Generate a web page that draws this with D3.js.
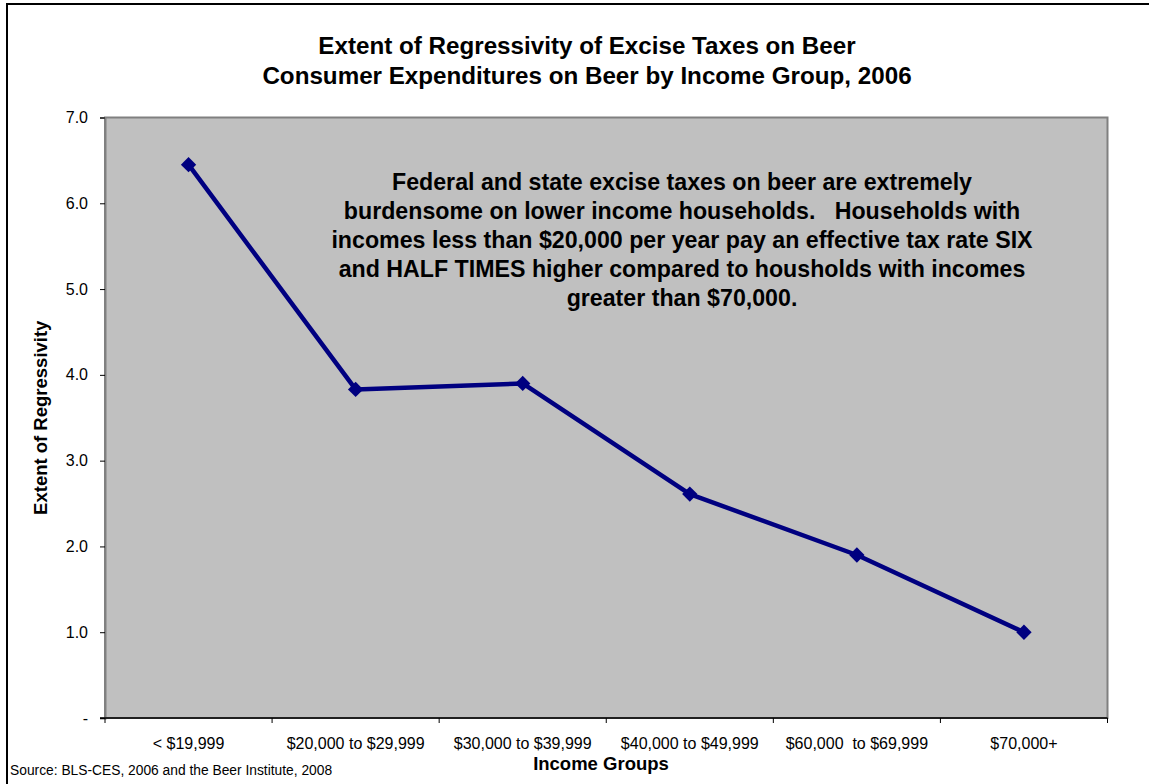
<!DOCTYPE html>
<html lang="en">
<head>
    <meta charset="UTF-8">
    <title>Extent of Regressivity of Excise Taxes on Beer</title>
    <style>
        body { margin: 0; background: #fff; }
        svg { display: block; font-family: "Liberation Sans", Arial, sans-serif; }
    </style>
</head>
<body>
<script src="https://cdn.jsdelivr.net/npm/d3@7"></script>
<script>
    // data
    const categories = ["< $19,999", "$20,000 to $29,999", "$30,000 to $39,999",
        "$40,000 to $49,999", "$60,000  to $69,999", "$70,000+"];
    const values = [6.45, 3.83, 3.90, 2.61, 1.90, 1.00];
    const yTicks = [0, 1, 2, 3, 4, 5, 6, 7];
    const titleLines = ["Extent of Regressivity of Excise Taxes on Beer",
        "Consumer Expenditures on Beer by Income Group, 2006"];
    const noteLines = ["Federal and state excise taxes on beer are extremely",
        "burdensome on lower income households.   Households with",
        "incomes less than $20,000 per year pay an effective tax rate SIX",
        "and HALF TIMES higher compared to housholds with incomes",
        "greater than $70,000."];

    const width = 1149, height = 784;
    const plot = {left: 105, top: 117.5, right: 1107.5, bottom: 718};

    const svg = d3.select("body").append("svg")
        .attr("width", width)
        .attr("height", height);

    // outer chart frame (runs off the right/bottom edges)
    svg.append("rect")
        .attr("x", 7).attr("y", 4)
        .attr("width", 1200).attr("height", 900)
        .attr("fill", "none")
        .attr("stroke", "#000").attr("stroke-width", 2);

    const x = d3.scaleBand()
        .domain(categories)
        .range([plot.left, plot.right]);

    const y = d3.scaleLinear()
        .domain([0, 7])
        .range([plot.bottom, plot.top]);

    // plot area
    svg.append("rect")
        .attr("x", plot.left).attr("y", plot.top)
        .attr("width", plot.right - plot.left)
        .attr("height", plot.bottom - plot.top)
        .attr("fill", "#c0c0c0")
        .attr("stroke", "#808080").attr("stroke-width", 2);

    // y axis
    const yAxis = svg.append("g")
        .attr("transform", `translate(${plot.left},0)`)
        .call(d3.axisLeft(y).tickValues(yTicks).tickSize(5).tickPadding(12)
            .tickFormat(d => d === 0 ? "-" : d3.format(".1f")(d)));
    yAxis.select(".domain").attr("stroke", "#808080").attr("stroke-width", 2);
    yAxis.selectAll(".tick line").attr("stroke", "#000");
    yAxis.selectAll(".tick text")
        .attr("font-size", 16).attr("fill", "#000")
        .attr("font-family", "Liberation Sans, Arial, sans-serif");

    // x axis (ticks at category boundaries)
    const xAxis = svg.append("g")
        .attr("transform", `translate(0,${plot.bottom})`);
    xAxis.append("line")
        .attr("x1", plot.left - 5).attr("x2", plot.right)
        .attr("stroke", "#000").attr("stroke-width", 1.5);
    const bounds = categories.map(c => x(c)).concat([plot.right]);
    xAxis.selectAll(".bt").data(bounds).join("line")
        .attr("x1", d => d).attr("x2", d => d)
        .attr("y1", 0).attr("y2", 5)
        .attr("stroke", "#000");
    xAxis.selectAll(".lab").data(categories).join("text")
        .attr("x", d => x(d) + x.bandwidth() / 2)
        .attr("y", 31)
        .attr("text-anchor", "middle")
        .attr("font-size", 16)
        .style("white-space", "pre")
        .text(d => d);

    // line + markers
    const pts = categories.map((c, i) => [x(c) + x.bandwidth() / 2, y(values[i])]);
    svg.append("path")
        .attr("d", d3.line()(pts))
        .attr("fill", "none")
        .attr("stroke", "#000080")
        .attr("stroke-width", 4.5)
        .attr("stroke-linejoin", "round");
    svg.selectAll(".mk").data(pts).join("path")
        .attr("transform", d => `translate(${d[0]},${d[1]})`)
        .attr("d", d3.symbol(d3.symbolDiamond2, 150))
        .attr("fill", "#000080");

    // titles
    svg.append("g").selectAll("text").data(titleLines).join("text")
        .attr("x", 587).attr("y", (d, i) => 54 + i * 30)
        .attr("text-anchor", "middle")
        .attr("font-size", 24.2).attr("font-weight", "bold")
        .text(d => d);

    // annotation
    svg.append("g").selectAll("text").data(noteLines).join("text")
        .attr("x", 682).attr("y", (d, i) => 190 + i * 29)
        .attr("text-anchor", "middle")
        .attr("font-size", 23.2).attr("font-weight", "bold")
        .style("white-space", "pre")
        .text(d => d);

    // axis titles
    svg.append("text")
        .attr("transform", `translate(47,${(plot.top + plot.bottom) / 2}) rotate(-90)`)
        .attr("text-anchor", "middle")
        .attr("font-size", 18.5).attr("font-weight", "bold")
        .text("Extent of Regressivity");
    svg.append("text")
        .attr("x", 601).attr("y", 770)
        .attr("text-anchor", "middle")
        .attr("font-size", 18.5).attr("font-weight", "bold")
        .text("Income Groups");

    svg.append("text")
        .attr("x", 10).attr("y", 775)
        .attr("font-size", 13.8)
        .text("Source: BLS-CES, 2006 and the Beer Institute, 2008");
</script>
</body>
</html>
